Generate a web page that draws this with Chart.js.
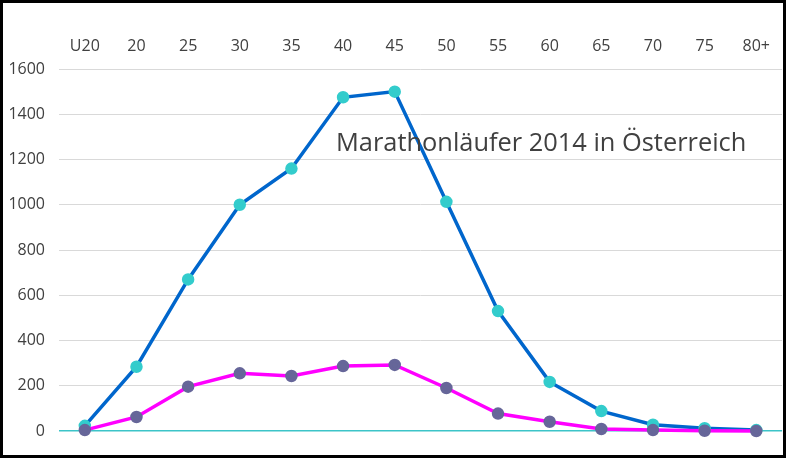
<!DOCTYPE html>
<html>
<head>
<meta charset="utf-8">
<script src="https://cdn.jsdelivr.net/npm/chart.js@4"></script>
<style>
  html, body { margin: 0; padding: 0; background: #fff; }
  .chart-box {
    width: 780px;
    height: 452px;
    border: 3px solid #000;
    position: relative;
  }
</style>
</head>
<body>
<div class="chart-box">
  <canvas id="chart" width="780" height="452"></canvas>
</div>
<script>
var ageGroups = ['U20', '20', '25', '30', '35', '40', '45', '50', '55', '60', '65', '70', '75', '80+'];
var menValues = [23, 284, 670, 1000, 1160, 1475, 1500, 1013, 530, 217, 88, 28, 12, 4];
var womenValues = [4, 62, 196, 255, 243, 287, 292, 190, 77, 41, 9, 4, 1, 0];
var chartTitle = 'Marathonläufer 2014 in Österreich';

var FONT = "'Open Sans', 'Noto Sans', sans-serif";
var TEXT = '#404040';

// title sits inside the plot, so draw it by hand
var titleInPlot = {
  id: 'titleInPlot',
  afterDatasetsDraw: function(chart) {
    var ctx = chart.ctx;
    ctx.save();
    ctx.font = '25.4px ' + FONT;
    ctx.fillStyle = TEXT;
    ctx.textAlign = 'left';
    ctx.textBaseline = 'alphabetic';
    ctx.fillText(chartTitle, 333, 148);
    ctx.restore();
  }
};

var ctx = document.getElementById('chart').getContext('2d');

new Chart(ctx, {
  type: 'line',
  data: {
    labels: ageGroups,
    datasets: [{
      label: 'Männer',
      data: menValues,
      order: 1,
      borderColor: '#0066CC',
      borderWidth: 3.5,
      pointBackgroundColor: '#33CCCC',
      pointBorderColor: '#33CCCC',
      pointRadius: 4.5,
      tension: 0,
      clip: false
    }, {
      label: 'Frauen',
      data: womenValues,
      order: 0,
      borderColor: '#FF00FF',
      borderWidth: 3.5,
      pointBackgroundColor: '#666699',
      pointBorderColor: '#666699',
      pointRadius: 4.5,
      tension: 0,
      clip: false
    }]
  },
  options: {
    responsive: false,
    animation: false,
    layout: {
      autoPadding: false,
      padding: { top: 0, right: 0, bottom: 24, left: 0 }
    },
    plugins: {
      legend: { display: false },
      tooltip: { enabled: false }
    },
    scales: {
      x: {
        position: 'top',
        offset: true,
        grid: { display: false, drawTicks: false },
        border: { display: false },
        ticks: {
          color: TEXT,
          font: { family: FONT, size: 16 },
          padding: 13,
          maxRotation: 0
        },
        afterFit: function(scale) { scale.height = 66; }
      },
      y: {
        min: 0,
        max: 1600,
        grid: {
          drawTicks: false,
          color: function(c) { return c.index === 0 ? '#3CC4C8' : '#D9D9D9'; },
          lineWidth: function(c) { return c.index === 0 ? 1.5 : 1; }
        },
        border: { display: false },
        ticks: {
          stepSize: 200,
          color: TEXT,
          font: { family: FONT, size: 16 },
          padding: 14,
          callback: function(v) { return String(v); }
        },
        afterFit: function(scale) { scale.width = 56; }
      }
    }
  },
  plugins: [titleInPlot]
});
</script>
</body>
</html>
